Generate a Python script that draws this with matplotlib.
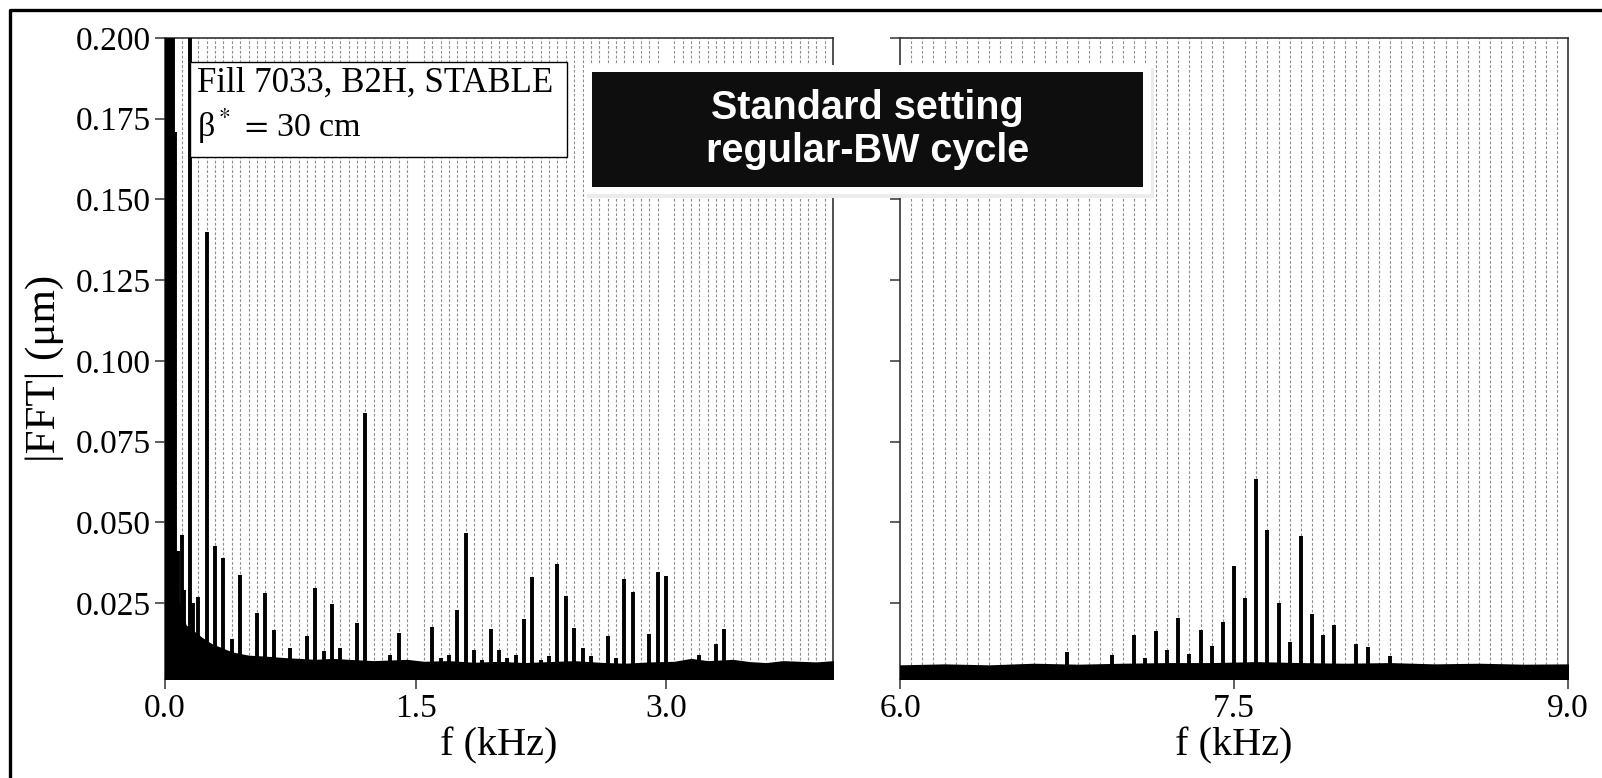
# spectrum plot: |FFT| of B2H orbit, fill 7033, standard setting
import matplotlib
matplotlib.use('Agg')
import matplotlib.pyplot as plt
from matplotlib.ticker import MultipleLocator, FormatStrFormatter
from matplotlib.patches import Rectangle
from matplotlib.lines import Line2D

#-------------------------------------------------------------------------------
# low band 0-4 kHz: spike lines (kHz, um)
low_freq = [0.01, 0.02, 0.03, 0.04, 0.05, 0.06, 0.075, 0.10, 0.115, 0.15, 0.165, 0.20, 0.25,
            0.30, 0.35, 0.40, 0.45, 0.55, 0.60, 0.65, 0.75, 0.85, 0.90, 0.95, 1.00,
            1.05, 1.15, 1.20, 1.35, 1.40, 1.60, 1.65, 1.70, 1.75, 1.80, 1.85, 1.90,
            1.95, 2.00, 2.05, 2.10, 2.15, 2.20, 2.25, 2.30, 2.35, 2.40, 2.45, 2.50,
            2.55, 2.65, 2.70, 2.75, 2.80, 2.90, 2.95, 3.00, 3.20, 3.30, 3.35]
low_amp = [0.30, 0.30, 0.30, 0.30, 0.30, 0.171, 0.041, 0.046, 0.029, 0.30, 0.025, 0.027, 0.140,
           0.0427, 0.039, 0.0138, 0.0336, 0.0218, 0.028, 0.0168, 0.0111, 0.0147, 0.0297, 0.0101, 0.0247,
           0.0111, 0.0187, 0.084, 0.0089, 0.0156, 0.0176, 0.008, 0.009, 0.0228, 0.0466, 0.0104, 0.0075,
           0.0171, 0.0106, 0.008, 0.009, 0.020, 0.0332, 0.0075, 0.0085, 0.037, 0.0271, 0.0173, 0.0111,
           0.0087, 0.0147, 0.008, 0.0326, 0.0285, 0.0153, 0.0347, 0.0333, 0.009, 0.0122, 0.0171]

# low band noise floor (kHz, um)
low_nf = [0.0, 0.05, 0.08, 0.12, 0.17, 0.22, 0.28, 0.33, 0.40, 0.50, 0.60, 0.70, 0.80, 0.90,
          1.00, 1.10, 1.25, 1.35, 1.45, 1.55, 1.70, 1.85, 2.00, 2.15, 2.30, 2.45, 2.60, 2.75,
          2.90, 3.05, 3.15, 3.25, 3.40, 3.50, 3.60, 3.70, 3.80, 3.90, 4.00]
low_nv = [0.010, 0.030, 0.025, 0.018, 0.016, 0.014, 0.012, 0.011, 0.0095, 0.0085, 0.0082, 0.0078, 0.0075, 0.0072,
          0.0075, 0.0072, 0.0068, 0.0070, 0.0072, 0.0066, 0.0068, 0.0063, 0.0066, 0.0062, 0.0065, 0.0068, 0.0063, 0.0060,
          0.0064, 0.0066, 0.0075, 0.0068, 0.0072, 0.0065, 0.0062, 0.0068, 0.0066, 0.0064, 0.0068]

# high band 6-9 kHz
high_freq = [6.75, 6.95, 7.05, 7.10, 7.15, 7.20, 7.25, 7.30, 7.35, 7.40, 7.45, 7.50, 7.55,
             7.60, 7.65, 7.70, 7.75, 7.80, 7.85, 7.90, 7.95, 8.05, 8.10, 8.20]
high_amp = [0.0098, 0.0089, 0.0151, 0.008, 0.0163, 0.0104, 0.0205, 0.0092, 0.0166, 0.0116, 0.019, 0.0364, 0.0265,
            0.0634, 0.0476, 0.0249, 0.013, 0.0457, 0.0215, 0.0151, 0.0182, 0.0122, 0.0114, 0.0085]

high_nf = [6.0, 6.2, 6.4, 6.6, 6.8, 7.0, 7.2, 7.4, 7.6, 7.8, 8.0, 8.2, 8.4, 8.6, 8.8, 9.0]
high_nv = [0.0055, 0.0058, 0.0055, 0.0060, 0.0057, 0.0060, 0.0062, 0.0062, 0.0065, 0.0062, 0.0060,
           0.0062, 0.0058, 0.0060, 0.0057, 0.0058]

xticks_low = [0.0, 1.5, 3.0]
xticks_high = [6.0, 7.5, 9.0]
yticks = [0.025, 0.050, 0.075, 0.100, 0.125, 0.150, 0.175, 0.200]

#-------------------------------------------------------------------------------
plt.rcParams['font.family'] = ['Liberation Serif', 'DejaVu Serif']
plt.rcParams['mathtext.fontset'] = 'stix'

W, H = 1602, 778
fig = plt.figure(figsize=(W/100, H/100), dpi=100)
ax1 = fig.add_axes([165/W, 1-679/H, 668/W, 641/H])
ax2 = fig.add_axes([900/W, 1-679/H, 668/W, 641/H])

def panel(ax, fr, am, nf, nv, xlim, xt):
    ax.fill_between(nf, 0, nv, color='black', lw=1.8, zorder=3)
    ax.vlines(fr, 0, am, color='black', lw=2.8, zorder=3)
    ax.set_xlim(*xlim)
    ax.set_ylim(0.0015, 0.2)
    ax.set_xticks(xt)
    ax.set_yticks(yticks)
    ax.xaxis.set_major_formatter(FormatStrFormatter('%.1f'))
    ax.yaxis.set_major_formatter(FormatStrFormatter('%.3f'))
    ax.xaxis.set_minor_locator(MultipleLocator(0.05))
    ax.grid(which='minor', axis='x', color='#8e8e8e', lw=0.8, linestyle=(0, (2.5, 1.8)), zorder=1)
    ax.tick_params(which='minor', length=0)
    ax.tick_params(which='major', direction='out', length=7, width=1.1, labelsize=24, color='#333333')
    for s in ax.spines.values():
        s.set_color('#333333')
        s.set_linewidth(1.2)
    ax.set_xlabel('f (kHz)', fontsize=29, labelpad=2)

panel(ax1, low_freq, low_amp, low_nf, low_nv, (0, 4.0), xticks_low)
panel(ax2, high_freq, high_amp, high_nf, high_nv, (6.0, 9.0), xticks_high)
ax2.set_yticklabels([])
ax1.set_ylabel('|FFT| (μm)', fontsize=31, labelpad=8)
ax1.yaxis.label.set_y(0.484)

def figrect(x0, y0, x1, y1, **kw):
    r = Rectangle((x0/W, 1-y1/H), (x1-x0)/W, (y1-y0)/H, transform=fig.transFigure, **kw)
    fig.add_artist(r)
    return r

# info box
figrect(190, 62, 567, 157, fc='white', ec='black', lw=1.0, zorder=6)
fig.text(197/W, 1-92/H, 'Fill 7033, B2H, STABLE', fontsize=25, va='baseline', ha='left', zorder=7)
fig.text(197/W, 1-137/H, 'β' + r'$^*$' + r'$\,=\,$30 cm', fontsize=24.5, va='baseline', ha='left', zorder=7)

# black label with white frame and soft shadow
figrect(587, 68, 1154, 198, fc='#ececec', ec='none', zorder=9)
figrect(584, 65, 1151, 194, fc='white', ec='none', zorder=10)
figrect(592, 72, 1143, 187, fc='#0e0e0e', ec='none', zorder=11)
fig.text(867.5/W, 1-129.5/H, 'Standard setting\nregular-BW cycle', color='white',
         family='Liberation Sans', weight='bold', fontsize=28.5, ha='center', va='center',
         linespacing=1.15, zorder=12)

# slide frame, only left and top edge fall inside the picture
fig.add_artist(Line2D([9.5/W, 9.5/W, 1.0], [0.0, 1-9.5/H, 1-9.5/H], transform=fig.transFigure,
                      color='black', lw=2.4, solid_capstyle='projecting'))

plt.savefig('out.png', dpi=100)
